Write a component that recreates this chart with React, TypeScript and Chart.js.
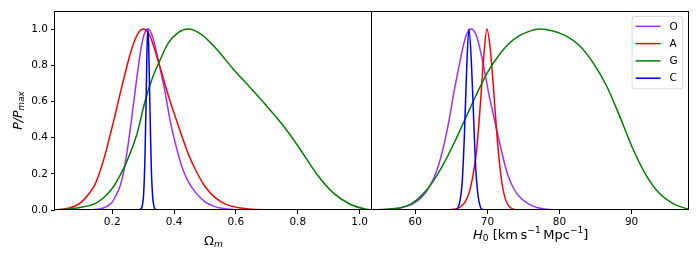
import React, { useEffect, useRef } from "react";
import { Chart, registerables } from "chart.js";

Chart.register(...registerables);

const FONT = "'DejaVu Sans', sans-serif";

// ---------- data ----------
const seriesNames = ["O", "A", "G", "C"];
const seriesColors = ["#9b30ff", "#ff0000", "#008000", "#0000ff"];

// Omega_m panel
const omegaO: [number, number][] = [
  [0.10, 0], [0.14, 0.002], [0.16, 0.006], [0.18, 0.018], [0.198, 0.04], [0.212, 0.08],
  [0.225, 0.13], [0.237, 0.21], [0.247, 0.31], [0.257, 0.43], [0.266, 0.55], [0.275, 0.67],
  [0.285, 0.80], [0.295, 0.91], [0.305, 0.98], [0.317, 1.0], [0.33, 0.96], [0.342, 0.88],
  [0.35, 0.82], [0.37, 0.66], [0.39, 0.47], [0.41, 0.33], [0.425, 0.24], [0.445, 0.16],
  [0.468, 0.10], [0.50, 0.045], [0.53, 0.02], [0.56, 0.008], [0.60, 0.002], [0.70, 0],
];
const omegaA: [number, number][] = [
  [0.015, 0], [0.058, 0.01], [0.08, 0.022], [0.101, 0.045], [0.12, 0.08], [0.144, 0.14],
  [0.171, 0.27], [0.20, 0.46], [0.228, 0.66], [0.263, 0.89], [0.285, 0.98], [0.30, 1.0],
  [0.32, 0.97], [0.351, 0.81], [0.38, 0.64], [0.415, 0.46], [0.446, 0.31], [0.473, 0.21],
  [0.50, 0.13], [0.532, 0.07], [0.57, 0.03], [0.61, 0.012], [0.65, 0.004], [0.72, 0.001],
  [0.94, 0],
];
const omegaG: [number, number][] = [
  [0.015, 0], [0.05, 0.004], [0.10, 0.015], [0.144, 0.035], [0.17, 0.065], [0.198, 0.115],
  [0.225, 0.19], [0.25, 0.28], [0.28, 0.42], [0.306, 0.6], [0.33, 0.73], [0.355, 0.83],
  [0.38, 0.92], [0.413, 0.98], [0.445, 1.0], [0.489, 0.97], [0.537, 0.89], [0.591, 0.78],
  [0.645, 0.679], [0.698, 0.578], [0.752, 0.468], [0.806, 0.34], [0.86, 0.202],
  [0.914, 0.096], [0.968, 0.033], [1.022, 0.004], [1.04, 0.001],
];
const omegaC: [number, number][] = [
  [0.285, 0], [0.292, 0.005], [0.298, 0.03], [0.302, 0.1], [0.306, 0.3], [0.309, 0.55],
  [0.312, 0.85], [0.315, 1.0], [0.318, 0.9], [0.321, 0.65], [0.324, 0.4], [0.327, 0.2],
  [0.331, 0.07], [0.335, 0.02], [0.34, 0.003], [0.345, 0],
];

// H0 panel
const h0O: [number, number][] = [
  [54, 0], [56, 0.003], [58, 0.012], [59.7, 0.035], [61, 0.075], [62, 0.13], [63, 0.22],
  [63.6, 0.30], [64.2, 0.40], [64.7, 0.50], [65.4, 0.66], [66, 0.78], [66.5, 0.88],
  [67.1, 0.97], [67.8, 1.0], [68.5, 0.96], [69.2, 0.85], [69.7, 0.75], [70.2, 0.64],
  [70.7, 0.55], [71.3, 0.44], [72.0, 0.32], [72.7, 0.21], [73.5, 0.13], [74.4, 0.075],
  [75.9, 0.03], [77, 0.012], [78.5, 0.003], [83, 0],
];
const h0A: [number, number][] = [
  [63, 0], [64.5, 0.001], [65.5, 0.005], [66.3, 0.018], [67, 0.05], [67.5, 0.1], [68.0, 0.19],
  [68.5, 0.33], [69.0, 0.57], [69.5, 0.85], [69.93, 1.0], [70.4, 0.89], [70.8, 0.7],
  [71.2, 0.48], [71.6, 0.29], [72.05, 0.14], [72.5, 0.06], [73.0, 0.02], [73.6, 0.005],
  [74.5, 0],
];
const h0G: [number, number][] = [
  [54, 0], [56, 0.004], [58, 0.013], [59.5, 0.035], [61, 0.085], [62.5, 0.16], [64, 0.26],
  [65.5, 0.38], [67, 0.51], [68.5, 0.64], [70, 0.76], [71.5, 0.85], [73, 0.92], [74.5, 0.965],
  [76, 0.99], [77.2, 1.0], [79.1, 0.99], [80.9, 0.963], [82.8, 0.908], [84.6, 0.817],
  [86.5, 0.688], [88.3, 0.523], [90.16, 0.34], [92, 0.193], [93.85, 0.092], [95.7, 0.037],
  [97.5, 0.009], [98, 0.005],
];
const h0C: [number, number][] = [
  [65.5, 0], [65.9, 0.01], [66.2, 0.05], [66.5, 0.15], [66.8, 0.4], [67.1, 0.75], [67.44, 1.0],
  [67.8, 0.8], [68.1, 0.5], [68.4, 0.22], [68.7, 0.08], [69.0, 0.02], [69.3, 0.003], [69.6, 0],
];

const yTicks = [0, 0.2, 0.4, 0.6, 0.8, 1.0];
const omegaTicks = [0.2, 0.4, 0.6, 0.8, 1.0];
const h0Ticks = [60, 70, 80, 90];
const yRange = [0, 1.1];
const omegaRange = [0.015, 1.04];
const h0Range = [54, 98];

// ---------- helpers ----------
type Seg = { t: string; it?: boolean; pos?: "sub" | "sup" };

function drawRich(
  ctx: CanvasRenderingContext2D,
  segs: Seg[],
  x: number,
  y: number,
  size: number,
  rotate = false
) {
  const fontFor = (s: Seg) =>
    `${s.it ? "italic " : ""}${s.pos ? size * 0.7 : size}px ${FONT}`;
  const widths = segs.map((s) => {
    ctx.font = fontFor(s);
    return ctx.measureText(s.t).width;
  });
  const total = widths.reduce((a, b) => a + b, 0);
  ctx.save();
  ctx.translate(x, y);
  if (rotate) ctx.rotate(-Math.PI / 2);
  ctx.fillStyle = "#000";
  ctx.textAlign = "left";
  ctx.textBaseline = "alphabetic";
  let cx = -total / 2;
  segs.forEach((s, i) => {
    ctx.font = fontFor(s);
    const dy = s.pos === "sub" ? size * 0.22 : s.pos === "sup" ? -size * 0.4 : 0;
    ctx.fillText(s.t, cx, dy);
    cx += widths[i];
  });
  ctx.restore();
}

const framePlugin = {
  id: "frame",
  afterDatasetsDraw(chart: any) {
    const { ctx, chartArea } = chart;
    ctx.save();
    ctx.strokeStyle = "#000";
    ctx.lineWidth = 1;
    const l = Math.round(chartArea.left) - 0.5;
    const t = Math.round(chartArea.top) + 0.5;
    const r = Math.round(chartArea.right) - 0.5;
    const b = Math.round(chartArea.bottom) - 0.5;
    ctx.strokeRect(l, t, r - l, b - t);
    ctx.restore();
  },
};

function makeDatasets(series: [number, number][][]) {
  return series.map((pts, i) => ({
    label: seriesNames[i],
    data: pts.map(([x, y]) => ({ x, y })),
    borderColor: seriesColors[i],
    backgroundColor: seriesColors[i],
    borderWidth: 1.5,
    pointRadius: 0,
    cubicInterpolationMode: "monotone" as const,
    fill: false,
    order: series.length - i,
  }));
}

function xScale(range: number[], ticks: number[], digits: number) {
  return {
    type: "linear" as const,
    min: range[0],
    max: range[1],
    afterBuildTicks: (s: any) => {
      s.ticks = ticks.map((v) => ({ value: v }));
    },
    afterFit: (s: any) => {
      s.height = 53;
    },
    ticks: {
      color: "#000",
      font: { family: FONT, size: 10.5 },
      padding: 2,
      maxRotation: 0,
      autoSkip: false,
      callback: (v: any) => Number(v).toFixed(digits),
    },
    grid: { drawOnChartArea: false, drawTicks: true, tickLength: 4, color: "#000", lineWidth: 1 },
    border: { display: false },
  };
}

function yScale(show: boolean) {
  return {
    type: "linear" as const,
    min: yRange[0],
    max: yRange[1],
    display: show,
    afterBuildTicks: (s: any) => {
      s.ticks = yTicks.map((v) => ({ value: v }));
    },
    afterFit: (s: any) => {
      s.width = show ? 55 : 0;
    },
    ticks: {
      color: "#000",
      font: { family: FONT, size: 10.5 },
      padding: 3,
      callback: (v: any) => Number(v).toFixed(1),
    },
    grid: { drawOnChartArea: false, drawTicks: true, tickLength: 4, color: "#000", lineWidth: 1 },
    border: { display: false },
  };
}

export default function App() {
  const leftRef = useRef<HTMLCanvasElement>(null);
  const rightRef = useRef<HTMLCanvasElement>(null);

  useEffect(() => {
    document.body.style.margin = "0";
    const leftTitles = {
      id: "leftTitles",
      afterDraw(chart: any) {
        const { ctx, chartArea } = chart;
        drawRich(ctx, [{ t: "Ω" }, { t: "m", it: true, pos: "sub" }],
          (chartArea.left + chartArea.right) / 2, 244.5, 13);
        drawRich(ctx, [{ t: "P/P", it: true }, { t: "max", it: true, pos: "sub" }],
          21.5, (chartArea.top + chartArea.bottom) / 2, 12.5, true);
      },
    };
    const rightTitles = {
      id: "rightTitles",
      afterDraw(chart: any) {
        const { ctx, chartArea } = chart;
        drawRich(ctx, [
          { t: "H", it: true }, { t: "0", pos: "sub" }, { t: " [km\u2009s" },
          { t: "\u22121", pos: "sup" }, { t: "\u2009Mpc" }, { t: "\u22121", pos: "sup" }, { t: "]" },
        ], (chartArea.left + chartArea.right) / 2, 238.5, 13);
      },
    };
    const legendPlugin = {
      id: "boxLegend",
      afterDraw(chart: any) {
        const { ctx, chartArea } = chart;
        const w = 50.6, h = 72.5;
        const x0 = chartArea.right - 6.6, y0 = chartArea.top + 5.3;
        const left = x0 - w;
        ctx.save();
        ctx.beginPath();
        const r = 3;
        ctx.moveTo(left + r, y0);
        ctx.lineTo(x0 - r, y0);
        ctx.quadraticCurveTo(x0, y0, x0, y0 + r);
        ctx.lineTo(x0, y0 + h - r);
        ctx.quadraticCurveTo(x0, y0 + h, x0 - r, y0 + h);
        ctx.lineTo(left + r, y0 + h);
        ctx.quadraticCurveTo(left, y0 + h, left, y0 + h - r);
        ctx.lineTo(left, y0 + r);
        ctx.quadraticCurveTo(left, y0, left + r, y0);
        ctx.closePath();
        ctx.fillStyle = "rgba(255,255,255,0.8)";
        ctx.fill();
        ctx.strokeStyle = "rgba(204,204,204,0.8)";
        ctx.lineWidth = 1;
        ctx.stroke();
        chart.data.datasets.forEach((ds: any, i: number) => {
          const yy = y0 + 10 + i * 17.3;
          ctx.strokeStyle = ds.borderColor;
          ctx.lineWidth = 1.5;
          ctx.beginPath();
          ctx.moveTo(left + 3.5, yy);
          ctx.lineTo(left + 28.5, yy);
          ctx.stroke();
          ctx.fillStyle = "#000";
          ctx.font = `10.5px ${FONT}`;
          ctx.textAlign = "left";
          ctx.textBaseline = "middle";
          ctx.fillText(ds.label, left + 37.5, yy + 0.5);
        });
        ctx.restore();
      },
    };

    const left = new Chart(leftRef.current!, {
      type: "line",
      data: { datasets: makeDatasets([omegaO, omegaA, omegaG, omegaC]) as any },
      options: {
        responsive: false,
        animation: false,
        events: [],
        layout: { padding: { left: 0, right: 10, top: 11, bottom: 0 } },
        scales: { x: xScale(omegaRange, omegaTicks, 1) as any, y: yScale(true) as any },
        plugins: { legend: { display: false }, tooltip: { enabled: false } },
      },
      plugins: [framePlugin, leftTitles],
    });
    const right = new Chart(rightRef.current!, {
      type: "line",
      data: { datasets: makeDatasets([h0O, h0A, h0G, h0C]) as any },
      options: {
        responsive: false,
        animation: false,
        events: [],
        layout: { padding: { left: 10, right: 10.7, top: 11, bottom: 0 } },
        scales: { x: xScale(h0Range, h0Ticks, 0) as any, y: yScale(false) as any },
        plugins: { legend: { display: false }, tooltip: { enabled: false } },
      },
      plugins: [framePlugin, rightTitles, legendPlugin],
    });
    return () => {
      left.destroy();
      right.destroy();
    };
  }, []);

  return (
    <div style={{ position: "fixed", left: 0, top: 0, width: 700, height: 263, background: "#fff" }}>
      <canvas ref={rightRef} width={338} height={263}
        style={{ position: "absolute", left: 362, top: 0 }} />
      <canvas ref={leftRef} width={382} height={263}
        style={{ position: "absolute", left: 0, top: 0 }} />
    </div>
  );
}
